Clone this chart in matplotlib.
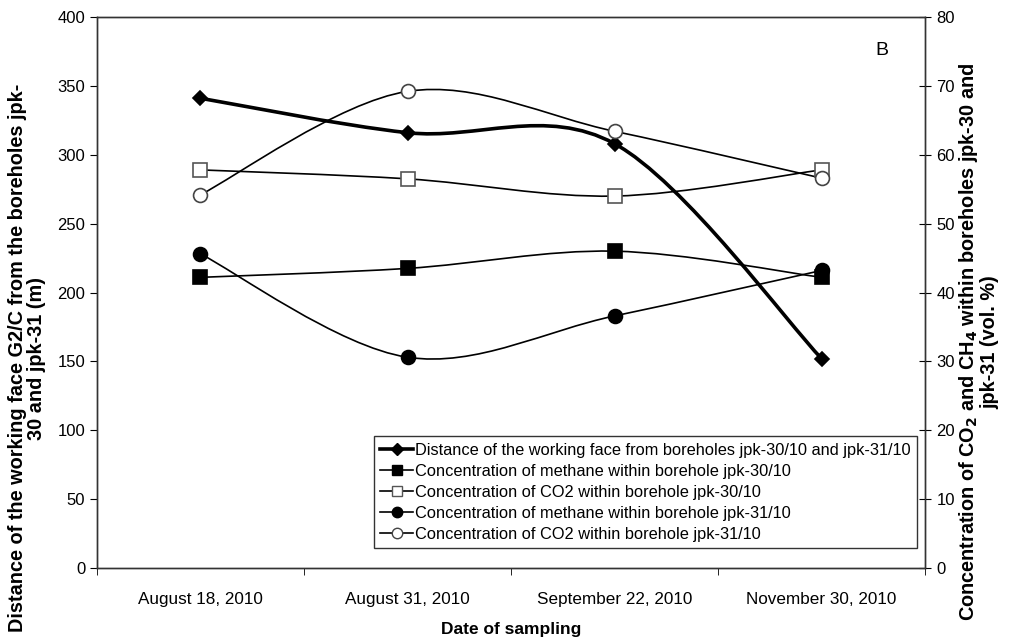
import numpy as np
import matplotlib.pyplot as plt
from matplotlib.path import Path
from matplotlib.patches import PathPatch
from matplotlib.lines import Line2D

plt.rcParams['font.family'] = ['Liberation Sans', 'DejaVu Sans']

dates = ["August 18, 2010", "August 31, 2010", "September 22, 2010", "November 30, 2010"]
distance = [341, 316, 308, 152]
ch4_jpk30 = [42.2, 43.5, 46.0, 42.2]
co2_jpk30 = [57.8, 56.5, 54.0, 57.8]
ch4_jpk31 = [45.6, 30.6, 36.6, 43.2]
co2_jpk31 = [54.2, 69.2, 63.4, 56.6]


def smooth_path(xs, ys):
    # Excel-like smoothed line: cubic Bezier segments through the points
    pts = np.column_stack([xs, ys]).astype(float)
    n = len(pts)
    verts = [pts[0]]
    codes = [Path.MOVETO]
    for i in range(n - 1):
        p0 = pts[i - 1] if i > 0 else pts[i]
        p1 = pts[i]
        p2 = pts[i + 1]
        p3 = pts[i + 2] if i + 2 < n else pts[i + 1]
        verts += [p1 + (p2 - p0) / 6, p2 - (p3 - p1) / 6, p2]
        codes += [Path.CURVE4] * 3
    return Path(verts, codes)


def draw_series(ax, y, lw, marker, ms, mfc, mec):
    x = np.arange(len(y))
    ax.add_patch(PathPatch(smooth_path(x, y), fill=False, edgecolor='black',
                           lw=lw, zorder=2))
    ax.plot(x, y, linestyle='none', marker=marker, ms=ms, mfc=mfc, mec=mec,
            mew=1.2, zorder=3)
    return Line2D([], [], color='black', lw=lw, marker=marker, ms=ms * 0.75,
                  mfc=mfc, mec=mec, mew=1.0)


fig = plt.figure(figsize=(10.1, 6.43), dpi=100)
ax = fig.add_axes([0.096, 0.1166, 0.82, 0.857])
ax2 = ax.twinx()

h1 = draw_series(ax, distance, 2.6, 'D', 7.5, 'black', 'black')
h2 = draw_series(ax2, ch4_jpk30, 1.2, 's', 10, 'black', 'black')
h3 = draw_series(ax2, co2_jpk30, 1.2, 's', 10, 'white', '#555555')
h4 = draw_series(ax2, ch4_jpk31, 1.2, 'o', 10, 'black', 'black')
h5 = draw_series(ax2, co2_jpk31, 1.2, 'o', 10, 'white', '#444444')

ax.set_xlim(-0.5, len(dates) - 0.5)
ax.set_ylim(0, 400)
ax2.set_ylim(0, 80)
ax.set_yticks(np.arange(0, 401, 50))
ax2.set_yticks(np.arange(0, 81, 10))
ax.set_xticks(np.arange(len(dates)))
ax.set_xticklabels(dates)
ax.set_xticks(np.arange(-0.5, len(dates), 1), minor=True)
ax.tick_params(axis='x', which='major', length=0, pad=17, labelsize=12.3)
ax.tick_params(axis='x', which='minor', length=5, direction='out')
ax.tick_params(axis='y', length=5, direction='out', labelsize=12)
ax2.tick_params(axis='y', length=9, direction='inout', labelsize=12)

for a in (ax, ax2):
    for s in a.spines.values():
        s.set_color('#333333')
        s.set_linewidth(1.0)

ax.set_xlabel("Date of sampling", fontsize=12.5, fontweight='bold', labelpad=11)
ax.set_ylabel("Distance of the working face G2/C from the boreholes jpk-\n30 and jpk-31 (m)",
              fontsize=14.3, fontweight='bold', linespacing=1.0)
ax.yaxis.set_label_coords(-0.062, 0.381)
ax2.set_ylabel("Concentration of CO$_\\mathbf{2}$ and CH$_\\mathbf{4}$ within boreholes jpk-30 and\njpk-31 (vol. %)",
               fontsize=14.3, fontweight='bold', linespacing=1.0)
ax2.yaxis.set_label_coords(1.0385, 0.41)

ax.text(0.948, 0.94, "B", transform=ax.transAxes, fontsize=14, ha='center', va='center')

labels = ["Distance of the working face from boreholes jpk-30/10 and jpk-31/10",
          "Concentration of methane within borehole jpk-30/10",
          "Concentration of CO2 within borehole jpk-30/10",
          "Concentration of methane within borehole jpk-31/10",
          "Concentration of CO2 within borehole jpk-31/10"]
leg = ax2.legend([h1, h2, h3, h4, h5], labels, loc='lower right',
                 bbox_to_anchor=(0.99, 0.036), borderaxespad=0, fontsize=11.8,
                 handlelength=2.0, handletextpad=0.1, labelspacing=0.36,
                 borderpad=0.4, fancybox=False, framealpha=1, edgecolor='#333333')
leg.get_frame().set_linewidth(1.0)

fig.savefig("out.png", dpi=100)
